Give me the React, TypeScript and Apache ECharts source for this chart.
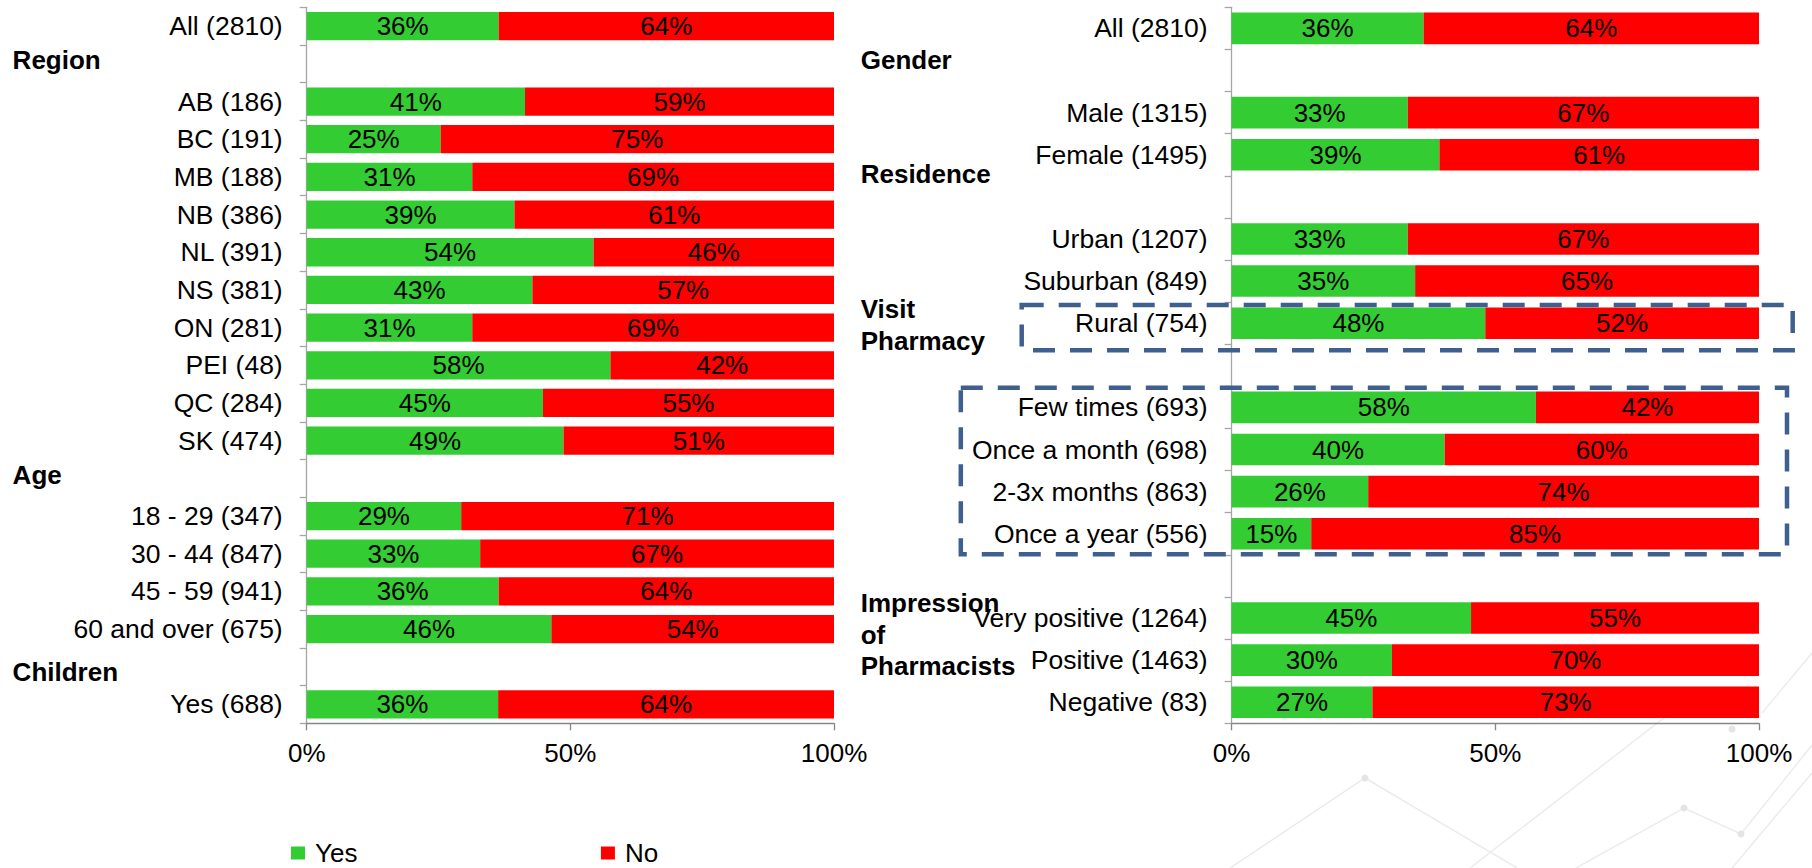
import { useEffect, useRef } from 'react';
import * as echarts from 'echarts';

const FONT = "'Liberation Sans', Arial, sans-serif";

// Left panel
const leftCategories = [
  'All (2810)', ' ', 'AB (186)', 'BC (191)', 'MB (188)', 'NB (386)', 'NL (391)', 'NS (381)',
  'ON (281)', 'PEI (48)', 'QC (284)', 'SK (474)', '  ', '18 - 29 (347)', '30 - 44 (847)',
  '45 - 59 (941)', '60 and over (675)', '   ', 'Yes (688)',
];
const leftYes = [36.4, null, 41.4, 25.4, 31.4, 39.4, 54.4, 42.8, 31.4, 57.6, 44.8, 48.7, null, 29.3, 32.9, 36.4, 46.4, null, 36.3];
const leftNo = [63.6, null, 58.6, 74.6, 68.6, 60.6, 45.6, 57.2, 68.6, 42.4, 55.2, 51.3, null, 70.7, 67.1, 63.6, 53.6, null, 63.7];

// Right panel
const rightCategories = [
  'All (2810)', ' ', 'Male (1315)', 'Female (1495)', '  ', 'Urban (1207)', 'Suburban (849)',
  'Rural (754)', '   ', 'Few times (693)', 'Once a month (698)', '2-3x months (863)',
  'Once a year (556)', '    ', 'Very positive (1264)', 'Positive (1463)', 'Negative (83)',
];
const rightYes = [36.4, null, 33.4, 39.4, null, 33.4, 34.8, 48.1, null, 57.7, 40.4, 25.9, 15.1, null, 45.4, 30.4, 26.7];
const rightNo = [63.6, null, 66.6, 60.6, null, 66.6, 65.2, 51.9, null, 42.3, 59.6, 74.1, 84.9, null, 54.6, 69.6, 73.3];

// Axis
const xMin = 0;
const xMax = 100;
const xInterval = 50;

// Group labels
const leftGroupLabels = ['Region', 'Age', 'Children'];
const rightGroupLabels = ['Gender', 'Residence', 'Visit', 'Pharmacy', 'Impression', 'of', 'Pharmacists'];
const legendLabels = ['Yes', 'No'];

const GREEN = '#33CC33';
const RED = '#FF0000';

export default function App() {
  const ref = useRef<HTMLDivElement>(null);

  useEffect(() => {
    if (!ref.current) return;
    const chart = echarts.init(ref.current, undefined, { renderer: 'svg' });

    const leftLabelPos = [[12.6, 59.5], [12.6, 474.8], [12.6, 672]];
    const rightLabelPos = [
      [860.7, 60], [860.7, 173.7], [860.7, 308.7], [860.7, 341.3],
      [860.7, 603], [860.7, 634.7], [860.7, 666.4],
    ];

    const groupText = (text: string, x: number, y: number) => ({
      type: 'text',
      x,
      y,
      z: 50,
      style: {
        text,
        fontSize: 26,
        fontWeight: 'bold',
        fontFamily: FONT,
        fill: '#000',
        align: 'left',
        verticalAlign: 'middle',
        textAlign: 'left',
        textVerticalAlign: 'middle',
      },
    });

    const wmStyle = { stroke: '#ececec', lineWidth: 1.5, fill: 'none' };
    const watermark: any[] = [
      { type: 'polyline', z: -10, shape: { points: [[1230, 868], [1365, 778], [1517, 868]] }, style: wmStyle },
      { type: 'polyline', z: -10, shape: { points: [[1470, 868], [1700, 690]] }, style: wmStyle },
      { type: 'polyline', z: -10, shape: { points: [[1576, 868], [1684, 808], [1741, 834], [1812, 745]] }, style: wmStyle },
      { type: 'polyline', z: -10, shape: { points: [[1732, 868], [1812, 773]] }, style: wmStyle },
      { type: 'polyline', z: -10, shape: { points: [[1762, 713], [1812, 653]] }, style: wmStyle },
      { type: 'circle', z: -10, shape: { cx: 1365, cy: 778, r: 3.5 }, style: { fill: '#e4e4e4' } },
      { type: 'circle', z: -10, shape: { cx: 1684, cy: 808, r: 3.5 }, style: { fill: '#e4e4e4' } },
      { type: 'circle', z: -10, shape: { cx: 1741, cy: 834, r: 3.5 }, style: { fill: '#e4e4e4' } },
      { type: 'circle', z: -10, shape: { cx: 1732, cy: 729, r: 3.5 }, style: { fill: '#e4e4e4' } },
    ];

    const boxStyle = { fill: 'none', stroke: '#3F5F8E', lineWidth: 4.5, lineDash: [22, 15] };

    const yAxisCommon = {
      type: 'category',
      inverse: true,
      axisLine: { show: true, lineStyle: { color: '#A6A6A6', width: 1.3 } },
      axisTick: { show: true, length: 7, lineStyle: { color: '#A6A6A6', width: 1.3 } },
      axisLabel: { margin: 24, fontSize: 26.5, color: '#000', fontFamily: FONT },
      splitLine: { show: false },
    };
    const xAxisCommon = {
      type: 'value',
      min: xMin,
      max: xMax,
      interval: xInterval,
      axisLine: { show: true, onZero: false, lineStyle: { color: '#868686', width: 1.3 } },
      axisTick: { show: true, length: 7, lineStyle: { color: '#868686', width: 1.3 } },
      axisLabel: { margin: 17, fontSize: 26, color: '#000', fontFamily: FONT, formatter: '{value}%' },
      splitLine: { show: false },
    };

    const barLabel = {
      show: true,
      position: 'inside',
      fontSize: 26,
      color: '#000',
      fontFamily: FONT,
      formatter: (p: any) => Math.round(p.value) + '%',
    };

    const mkSeries = (name: string, data: any[], color: string, idx: number, stack: string) => ({
      name,
      type: 'bar',
      stack,
      xAxisIndex: idx,
      yAxisIndex: idx,
      data,
      barCategoryGap: '25%',
      itemStyle: { color },
      label: barLabel,
      emphasis: { disabled: true },
    });

    chart.setOption({
      animation: false,
      textStyle: { fontFamily: FONT },
      legend: {
        data: legendLabels,
        left: 291,
        top: 840,
        padding: 0,
        itemWidth: 14,
        itemHeight: 13,
        itemGap: 243.5,
        icon: 'rect',
        selectedMode: false,
        textStyle: { fontSize: 26, color: '#000', fontFamily: FONT, padding: [0, 0, 0, 5] },
      },
      grid: [
        { left: 306.7, top: 7.3, width: 527.3, height: 716, containLabel: false },
        { left: 1231.6, top: 7.3, width: 527.4, height: 716, containLabel: false },
      ],
      xAxis: [
        { ...xAxisCommon, gridIndex: 0 },
        { ...xAxisCommon, gridIndex: 1 },
      ],
      yAxis: [
        { ...yAxisCommon, gridIndex: 0, data: leftCategories },
        { ...yAxisCommon, gridIndex: 1, data: rightCategories },
      ],
      series: [
        mkSeries('Yes', leftYes, GREEN, 0, 'left'),
        mkSeries('No', leftNo, RED, 0, 'left'),
        mkSeries('Yes', rightYes, GREEN, 1, 'right'),
        mkSeries('No', rightNo, RED, 1, 'right'),
      ],
      graphic: [
        ...watermark,
        ...leftGroupLabels.map((t, i) => groupText(t, leftLabelPos[i][0], leftLabelPos[i][1])),
        ...rightGroupLabels.map((t, i) => groupText(t, rightLabelPos[i][0], rightLabelPos[i][1])),
        { type: 'rect', z: 100, shape: { x: 1021.7, y: 305, width: 771, height: 45.3 }, style: boxStyle },
        { type: 'rect', z: 100, shape: { x: 960.8, y: 387.7, width: 826.2, height: 166.6 }, style: boxStyle },
      ],
    });

    return () => chart.dispose();
  }, []);

  return (
    <div
      ref={ref}
      style={{ position: 'absolute', left: 0, top: 0, width: 1812, height: 868, background: '#fff' }}
    />
  );
}
